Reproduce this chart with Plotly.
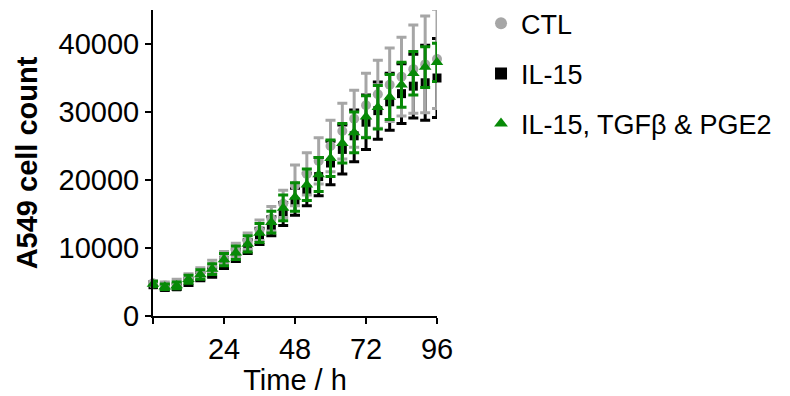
import plotly.graph_objects as go

time_h = [0, 4, 8, 12, 16, 20, 24, 28, 32, 36, 40, 44, 48, 52, 56, 60, 64, 68, 72, 76, 80, 84, 88, 92, 96]

ctl_mean = [4800, 4500, 4800, 5600, 6400, 7300, 8600, 9700, 11000, 12600, 14300, 16500, 19200,
            20900, 22800, 25000, 27200, 29000, 31000, 32600, 34000, 35200, 36300, 37000, 37800]
ctl_sd = [400, 500, 600, 600, 700, 900, 900, 1000, 1200, 1500, 1800, 2000, 3000,
          3100, 3400, 3800, 4100, 4200, 4700, 5000, 5400, 5800, 6500, 7100, 7300]

il15_mean = [4600, 4200, 4300, 5000, 5800, 6400, 7800, 8900, 10200, 11700, 13200, 15000, 16800,
             18600, 20500, 22500, 24500, 26500, 28500, 30200, 31500, 32700, 33800, 34300, 35000]
il15_sd = [400, 400, 400, 500, 600, 700, 800, 900, 1000, 1200, 1400, 1700, 2000,
           2400, 2800, 3200, 3600, 3800, 4000, 4200, 4200, 4400, 4700, 5500, 5800]

combo_mean = [4700, 4300, 4500, 5400, 6100, 6900, 8300, 9300, 10600, 12200, 13800, 15900, 17500,
              19300, 20800, 23200, 25400, 27000, 29300, 30700, 32200, 34000, 35700, 36600, 37300]
combo_sd = [400, 400, 500, 600, 700, 800, 900, 1000, 1200, 1400, 1600, 1900, 2100,
            2300, 2500, 2700, 2900, 3000, 3100, 3200, 3300, 3300, 3200, 3000, 2800]

series_names = ["CTL", "IL-15", "IL-15, TGFβ & PGE2"]
colors = ["#a6a6a6", "#000000", "#078a07"]
symbols = ["circle", "square", "triangle-up"]
sizes = [10, 9, 11]
means = [ctl_mean, il15_mean, combo_mean]
sds = [ctl_sd, il15_sd, combo_sd]

FONT = "Liberation Sans, Arial, sans-serif"

fig = go.Figure()
# drawing order: IL-15 at the back, then CTL, then the combination on top
for i in [1, 0, 2]:
    fig.add_trace(go.Scatter(
        x=time_h, y=means[i], mode="markers", name=series_names[i],
        legendgroup=series_names[i], legendrank=i + 1,
        marker=dict(symbol=symbols[i], size=sizes[i], color=colors[i], line=dict(width=0)),
        error_y=dict(type="data", array=sds[i], visible=True, color=colors[i], thickness=3, width=5),
        cliponaxis=False,
    ))

fig.update_layout(
    width=790, height=396,
    margin=dict(l=153, r=353, t=10, b=80, autoexpand=False),
    paper_bgcolor="white", plot_bgcolor="white",
    font=dict(family=FONT, size=29, color="black"),
    showlegend=True,
    legend=dict(x=1.155, xanchor="left", y=1.035, yanchor="top",
                font=dict(size=27), traceorder="grouped", tracegroupgap=12,
                itemsizing="constant",
                bgcolor="rgba(0,0,0,0)"),
    xaxis=dict(range=[0, 96], tickvals=[0, 24, 48, 72, 96], ticktext=["", "24", "48", "72", "96"],
               automargin=False,
               showline=True, linecolor="black", linewidth=2, ticks="outside", ticklen=6,
               tickwidth=2, tickcolor="black", showgrid=False, zeroline=False,
               title=dict(text="Time / h", font=dict(size=29), standoff=4)),
    yaxis=dict(range=[0, 45000], tickvals=[0, 10000, 20000, 30000, 40000],
               tickformat="d", automargin=False,
               showline=True, linecolor="black", linewidth=2, ticks="outside", ticklen=6,
               tickwidth=2, tickcolor="black", showgrid=False, zeroline=False,
               title=dict(text="<b>A549 cell count</b>", font=dict(size=29), standoff=12)),
)

fig.write_html("out.html", config={"displayModeBar": False},
               post_script="document.body.style.margin='0';document.body.style.padding='0';")
